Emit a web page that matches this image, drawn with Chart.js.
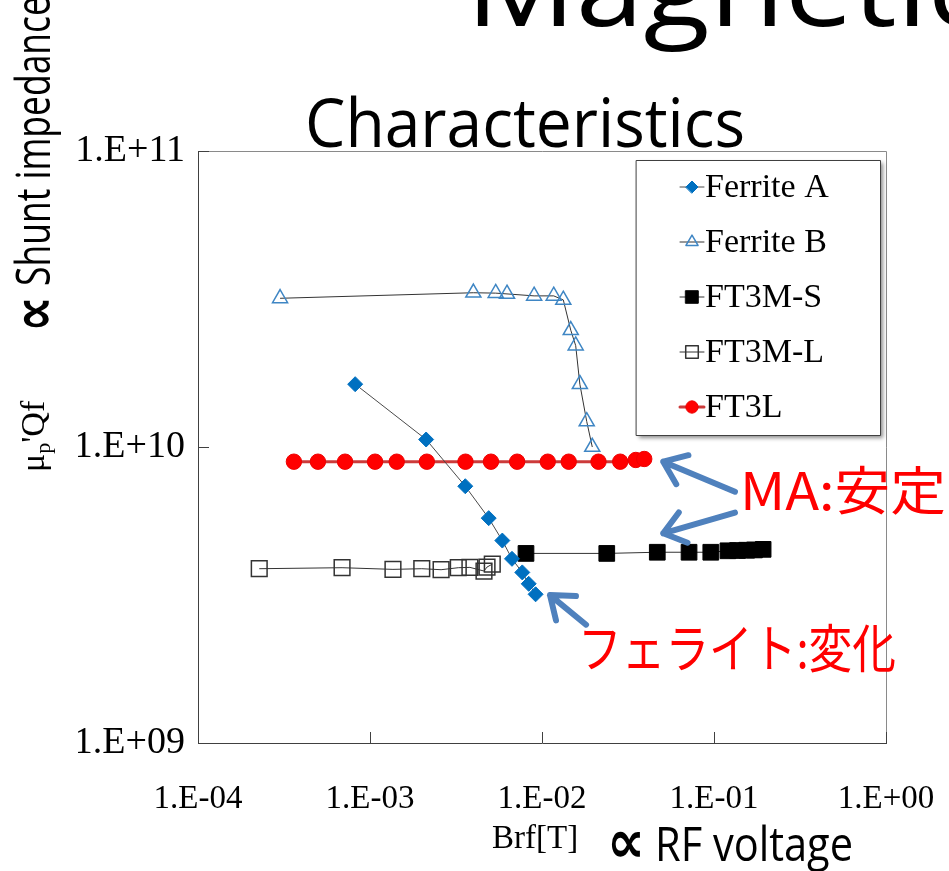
<!DOCTYPE html>
<html>
<head>
    <title>Magnetic Characteristics</title>
    <meta charset="UTF-8">
    <script src="https://cdn.jsdelivr.net/npm/chart.js@4.4.1/dist/chart.umd.min.js"></script>
    <style>
        body { margin: 0; background: #fff; }
    </style>
</head>
<body>
    <canvas id="myChart" width="949" height="871"></canvas>
    <script>
        // values (Brf [T], mu'Qf)
        let ferriteA_x = [8.2e-4, 2.12e-3, 3.58e-3, 4.9e-3, 5.88e-3, 6.69e-3, 7.68e-3, 8.37e-3, 9.18e-3];
        let ferriteA_y = [1.63e10, 1.06e10, 7.37e9, 5.75e9, 4.83e9, 4.19e9, 3.77e9, 3.45e9, 3.18e9];

        let ferriteB_x = [3.0e-4, 3.99e-3, 5.38e-3, 6.26e-3, 9.0e-3, 1.17e-2, 1.33e-2, 1.47e-2, 1.57e-2, 1.66e-2, 1.82e-2, 1.96e-2];
        let ferriteB_y = [3.18e10, 3.32e10, 3.31e10, 3.29e10, 3.24e10, 3.24e10, 3.14e10, 2.48e10, 2.20e10, 1.63e10, 1.22e10, 1.0e10];

        let ft3ms_x = [8.07e-3, 2.38e-2, 4.68e-2, 7.16e-2, 9.58e-2, 0.1205, 0.137, 0.155, 0.172, 0.193];
        let ft3ms_y = [4.37e9, 4.37e9, 4.41e9, 4.41e9, 4.41e9, 4.46e9, 4.47e9, 4.48e9, 4.49e9, 4.51e9];

        let ft3ml_x = [2.27e-4, 6.88e-4, 1.36e-3, 2.0e-3, 2.59e-3, 3.26e-3, 3.81e-3, 4.6e-3, 4.79e-3, 5.14e-3];
        let ft3ml_y = [3.88e9, 3.91e9, 3.86e9, 3.88e9, 3.85e9, 3.91e9, 3.92e9, 3.81e9, 3.93e9, 4.02e9];

        let ft3l_x = [3.61e-4, 4.98e-4, 7.16e-4, 1.07e-3, 1.43e-3, 2.14e-3, 3.59e-3, 5.05e-3, 7.17e-3, 1.08e-2, 1.43e-2, 2.13e-2, 2.85e-2, 3.51e-2, 3.93e-2];
        let ft3l_y = [8.92e9, 8.92e9, 8.92e9, 8.92e9, 8.92e9, 8.92e9, 8.92e9, 8.92e9, 8.92e9, 8.92e9, 8.92e9, 8.92e9, 8.92e9, 9.04e9, 9.11e9];

        let xTicks = [1e-4, 1e-3, 1e-2, 1e-1, 1];
        let xTickLabels = ['1.E-04', '1.E-03', '1.E-02', '1.E-01', '1.E+00'];
        let yTicks = [1e9, 1e10, 1e11];
        let yTickLabels = ['1.E+09', '1.E+10', '1.E+11'];

        // arrows in data units: [tailX, tailY, tipX, tipY]
        let arrows = [
            [0.1324, 7.06e9, 0.0507, 8.92e9],
            [0.1324, 6.0e9, 0.0507, 5.11e9],
            [0.01804, 2.51e9, 0.01113, 3.16e9]
        ];

        function pts(xs, ys) {
            return xs.map((x, i) => ({x: x, y: ys[i]}));
        }

        function fitText(ctx, text, x, y, w, font, color) {
            ctx.save();
            ctx.font = font;
            ctx.fillStyle = color;
            ctx.textBaseline = 'alphabetic';
            ctx.textAlign = 'left';
            let m = ctx.measureText(text).width;
            ctx.translate(x, y);
            ctx.scale(w / m, 1);
            ctx.fillText(text, 0, 0);
            ctx.restore();
        }

        const serif = '"Liberation Serif", "Times New Roman", serif';
        const sans = '"Open Sans", "Noto Sans", sans-serif';
        const cjk = '"Noto Sans CJK JP", "Noto Sans", sans-serif';
        const propFont = 'bold 60px "DejaVu Sans", sans-serif';

        const decorations = {
            id: 'decorations',
            afterDatasetsDraw(chart) {
                const ctx = chart.ctx;
                const a = chart.chartArea;
                const xs = chart.scales.x, ys = chart.scales.y;
                ctx.save();
                // frame top/right
                ctx.strokeStyle = '#8a8a8a';
                ctx.lineWidth = 1;
                ctx.beginPath();
                ctx.moveTo(a.left, a.top + 0.5);
                ctx.lineTo(a.right + 0.5, a.top + 0.5);
                ctx.lineTo(a.right + 0.5, a.bottom);
                ctx.stroke();
                // inside tick marks
                ctx.strokeStyle = '#404040';
                ctx.beginPath();
                xTicks.forEach(v => {
                    let px = Math.round(xs.getPixelForValue(v)) + 0.5;
                    ctx.moveTo(px, a.bottom);
                    ctx.lineTo(px, a.bottom - 11);
                });
                yTicks.forEach(v => {
                    let py = Math.round(ys.getPixelForValue(v)) + 0.5;
                    ctx.moveTo(a.left, py);
                    ctx.lineTo(a.left + 11, py);
                });
                ctx.stroke();
                ctx.restore();
            },
            afterDraw(chart) {
                const ctx = chart.ctx;
                const xs = chart.scales.x, ys = chart.scales.y;
                ctx.save();

                // titles
                fitText(ctx, 'Magnetic', 466, 26, 520, '108px ' + sans, '#000');
                fitText(ctx, 'Characteristics', 305, 147, 440, '68px ' + sans, '#000');

                // y axis title
                ctx.save();
                ctx.translate(54, 332);
                ctx.rotate(-Math.PI / 2);
                fitText(ctx, '\u221d', 0, 0, 36, propFont, '#000');
                ctx.restore();
                ctx.save();
                ctx.translate(50, 286);
                ctx.rotate(-Math.PI / 2);
                fitText(ctx, 'Shunt impedance', 0, 0, 290, '48px ' + sans, '#000');
                ctx.restore();

                ctx.save();
                ctx.translate(44, 472);
                ctx.rotate(-Math.PI / 2);
                ctx.fillStyle = '#000';
                ctx.font = '34px ' + serif;
                ctx.fillText('\u03bc', 0, 0);
                let cx = ctx.measureText('\u03bc').width;
                ctx.font = '22px ' + serif;
                ctx.fillText('p', cx, 6);
                cx += ctx.measureText('p').width;
                ctx.font = '34px ' + serif;
                ctx.fillText('\'Qf', cx, 0);
                ctx.restore();

                // x axis title
                ctx.fillStyle = '#000';
                ctx.font = '33px ' + serif;
                ctx.textAlign = 'left';
                ctx.textBaseline = 'alphabetic';
                ctx.fillText('Brf[T]', 492, 848);
                fitText(ctx, '\u221d', 607, 862, 38, propFont, '#000');
                fitText(ctx, 'RF voltage', 655, 861, 198, '48px ' + sans, '#000');

                // annotations
                fitText(ctx, 'MA:\u5b89\u5b9a', 740, 510, 206, '52px ' + cjk, '#ff0000');
                fitText(ctx, '\u30d5\u30a7\u30e9\u30a4\u30c8:\u5909\u5316', 578, 668, 318, '52px ' + cjk, '#ff0000');

                ctx.strokeStyle = '#4f81bd';
                ctx.lineWidth = 6;
                ctx.lineCap = 'round';
                ctx.lineJoin = 'round';
                arrows.forEach(ar => {
                    let x0 = xs.getPixelForValue(ar[0]), y0 = ys.getPixelForValue(ar[1]);
                    let x1 = xs.getPixelForValue(ar[2]), y1 = ys.getPixelForValue(ar[3]);
                    let ang = Math.atan2(y1 - y0, x1 - x0);
                    ctx.beginPath();
                    ctx.moveTo(x0, y0);
                    ctx.lineTo(x1, y1);
                    ctx.moveTo(x1 - 26 * Math.cos(ang - 0.65), y1 - 26 * Math.sin(ang - 0.65));
                    ctx.lineTo(x1, y1);
                    ctx.lineTo(x1 - 26 * Math.cos(ang + 0.65), y1 - 26 * Math.sin(ang + 0.65));
                    ctx.stroke();
                });

                // legend box
                let lx = 636, ly = 160, lw = 244, lh = 275;
                ctx.save();
                ctx.shadowColor = 'rgba(0,0,0,0.45)';
                ctx.shadowBlur = 4;
                ctx.shadowOffsetX = 3;
                ctx.shadowOffsetY = 3;
                ctx.fillStyle = '#fff';
                ctx.fillRect(lx, ly, lw, lh);
                ctx.restore();
                ctx.strokeStyle = '#404040';
                ctx.lineWidth = 1;
                ctx.strokeRect(lx + 0.5, ly + 0.5, lw, lh);

                chart.data.datasets.forEach((ds, i) => {
                    let ry = 187 + i * 55;
                    ctx.strokeStyle = ds.borderColor;
                    ctx.lineWidth = ds.borderWidth;
                    ctx.beginPath();
                    ctx.moveTo(680, ry);
                    ctx.lineTo(704, ry);
                    ctx.stroke();
                    ctx.fillStyle = ds.pointBackgroundColor;
                    ctx.strokeStyle = ds.pointBorderColor;
                    ctx.lineWidth = ds.pointBorderWidth;
                    Chart.helpers.drawPoint(ctx, {
                        pointStyle: ds.pointStyle,
                        radius: ds.pointRadius * 0.8,
                        rotation: 0,
                        borderWidth: ds.pointBorderWidth
                    }, 692, ry);
                    ctx.fillStyle = '#000';
                    ctx.font = '34px ' + serif;
                    ctx.textAlign = 'left';
                    ctx.textBaseline = 'middle';
                    ctx.fillText(ds.label, 705, ry + 1);
                });
                ctx.restore();
            }
        };

        function drawChart() {
            var ctx = document.getElementById('myChart').getContext('2d');
            var myChart = new Chart(ctx, {
                type: 'scatter',
                data: {
                    datasets: [{
                        label: 'Ferrite A',
                        data: pts(ferriteA_x, ferriteA_y),
                        showLine: true,
                        borderColor: '#4a4a4a',
                        borderWidth: 1,
                        pointStyle: 'rectRot',
                        pointRadius: 7.5,
                        pointBackgroundColor: '#0070c0',
                        pointBorderColor: '#0070c0',
                        pointBorderWidth: 1,
                        order: 2
                    }, {
                        label: 'Ferrite B',
                        data: pts(ferriteB_x, ferriteB_y),
                        showLine: true,
                        borderColor: '#333',
                        borderWidth: 1,
                        pointStyle: 'triangle',
                        pointRadius: 8.7,
                        pointBackgroundColor: 'rgba(255,255,255,0)',
                        pointBorderColor: '#3f86c4',
                        pointBorderWidth: 1.5,
                        order: 3
                    }, {
                        label: 'FT3M-S',
                        data: pts(ft3ms_x, ft3ms_y),
                        showLine: true,
                        borderColor: '#333',
                        borderWidth: 1,
                        pointStyle: 'rect',
                        pointRadius: 11.1,
                        pointBackgroundColor: '#000',
                        pointBorderColor: '#000',
                        pointBorderWidth: 1,
                        order: 4
                    }, {
                        label: 'FT3M-L',
                        data: pts(ft3ml_x, ft3ml_y),
                        showLine: true,
                        borderColor: '#333',
                        borderWidth: 1,
                        pointStyle: 'rect',
                        pointRadius: 11.1,
                        pointBackgroundColor: 'rgba(255,255,255,0)',
                        pointBorderColor: '#333',
                        pointBorderWidth: 1.5,
                        order: 5
                    }, {
                        label: 'FT3L',
                        data: pts(ft3l_x, ft3l_y),
                        showLine: true,
                        borderColor: '#cc3b3b',
                        borderWidth: 3,
                        pointStyle: 'circle',
                        pointRadius: 7.7,
                        pointBackgroundColor: '#ff0000',
                        pointBorderColor: '#ee0000',
                        pointBorderWidth: 1,
                        order: 6
                    }]
                },
                options: {
                    responsive: false,
                    animation: false,
                    layout: { padding: { left: 78, top: 151, right: 63, bottom: 0 } },
                    plugins: {
                        legend: { display: false },
                        tooltip: { enabled: false }
                    },
                    scales: {
                        x: {
                            type: 'logarithmic',
                            min: 1e-4,
                            max: 1,
                            afterBuildTicks: s => { s.ticks = xTicks.map(v => ({value: v})); },
                            afterFit: s => { s.height = 128; s.paddingLeft = 0; s.paddingRight = 0; },
                            grid: { display: false, drawTicks: false },
                            border: { display: true, color: '#404040', width: 1 },
                            ticks: {
                                autoSkip: false,
                                maxRotation: 0,
                                padding: 37,
                                color: '#000',
                                font: { family: serif, size: 33 },
                                callback: (v, i) => xTickLabels[i]
                            }
                        },
                        y: {
                            type: 'logarithmic',
                            min: 1e9,
                            max: 1e11,
                            afterBuildTicks: s => { s.ticks = yTicks.map(v => ({value: v})); },
                            afterFit: s => { s.width = 120; s.paddingTop = 0; s.paddingBottom = 0; },
                            grid: { display: false, drawTicks: false },
                            border: { display: true, color: '#404040', width: 1 },
                            ticks: {
                                autoSkip: false,
                                padding: 13,
                                color: '#000',
                                font: { family: serif, size: 38 },
                                callback: (v, i) => yTickLabels[i]
                            }
                        }
                    }
                },
                plugins: [decorations]
            });
        }

        drawChart();
    </script>
</body>
</html>
